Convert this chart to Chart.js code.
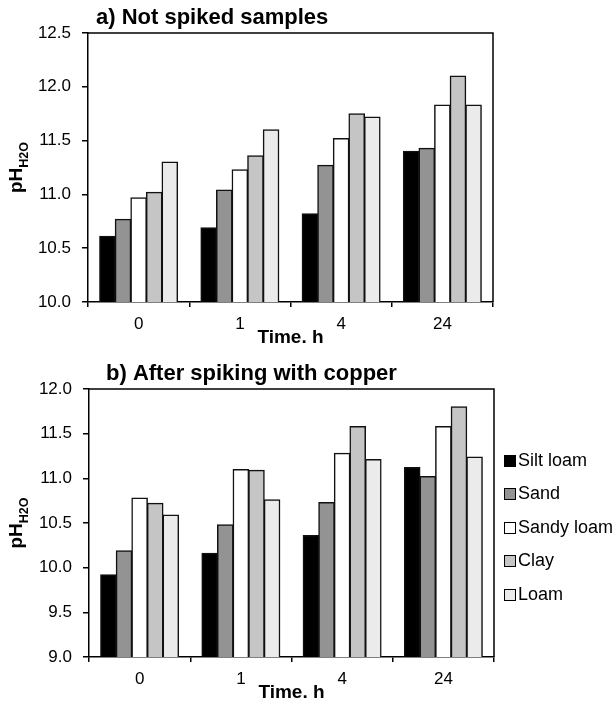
<!DOCTYPE html>
<html>
<head>
<meta charset="utf-8">
<title>pH of soils over time</title>
<script src="https://cdn.jsdelivr.net/npm/chart.js@4"></script>
<style>
  html, body { margin: 0; padding: 0; background: #ffffff; }
  canvas { display: block; }
</style>
</head>
<body>
<canvas id="chartA" width="616" height="350"></canvas>
<canvas id="chartB" width="616" height="351"></canvas>
<script>
// Sampling times (hours) and soil types
const times = ['0', '1', '4', '24'];
const soils = ['Silt loam', 'Sand', 'Sandy loam', 'Clay', 'Loam'];
const soilColors = ['#000000', '#939393', '#ffffff', '#c4c5c4', '#ebebeb'];

// a) pH(H2O) of the soils without copper
const siltLoamA  = [10.61, 10.69, 10.82, 11.40];
const sandA      = [10.77, 11.04, 11.27, 11.43];
const sandyLoamA = [10.97, 11.23, 11.52, 11.83];
const clayA      = [11.02, 11.36, 11.75, 12.10];
const loamA      = [11.30, 11.60, 11.72, 11.83];

// b) pH(H2O) after spiking with copper
const siltLoamB  = [9.92, 10.16, 10.36, 11.12];
const sandB      = [10.19, 10.48, 10.73, 11.02];
const sandyLoamB = [10.78, 11.10, 11.28, 11.58];
const clayB      = [10.72, 11.09, 11.58, 11.80];
const loamB      = [10.59, 10.76, 11.21, 11.24];

// y-axis tick values of each panel
const yTicksA = [10.0, 10.5, 11.0, 11.5, 12.0, 12.5];
const yTicksB = [9.0, 9.5, 10.0, 10.5, 11.0, 11.5, 12.0];

const FONT = '"Liberation Sans", Arial, Helvetica, sans-serif';
const LINE = 1.5;

// closes the plot box on the top and right sides
const framePlugin = {
  id: 'frame',
  afterDatasetsDraw(chart) {
    const { ctx, chartArea: a } = chart;
    ctx.save();
    ctx.strokeStyle = '#000';
    ctx.lineWidth = LINE;
    ctx.beginPath();
    ctx.moveTo(a.left, a.top);
    ctx.lineTo(a.right, a.top);
    ctx.lineTo(a.right, a.bottom);
    ctx.stroke();
    ctx.restore();
  }
};

// bold panel heading above the plot box
const panelTitlePlugin = {
  id: 'panelTitle',
  afterDraw(chart, args, opts) {
    const { ctx, chartArea: a } = chart;
    ctx.save();
    ctx.fillStyle = '#000';
    ctx.font = 'bold 22px ' + FONT;
    ctx.textAlign = 'left';
    ctx.textBaseline = 'alphabetic';
    ctx.fillText(opts.text, a.left + opts.dx, a.top - opts.dy);
    ctx.restore();
  }
};

// rotated y-axis title "pH" with subscript "H2O"
const yTitlePlugin = {
  id: 'yTitleSub',
  afterDraw(chart, args, opts) {
    const { ctx, chartArea: a } = chart;
    const big = 'bold 19px ' + FONT;
    const small = 'bold 12.5px ' + FONT;
    ctx.save();
    ctx.translate(opts.x, (a.top + a.bottom) / 2);
    ctx.rotate(-Math.PI / 2);
    ctx.fillStyle = '#000';
    ctx.textAlign = 'left';
    ctx.textBaseline = 'alphabetic';
    ctx.font = big;
    const w1 = ctx.measureText('pH').width;
    ctx.font = small;
    const w2 = ctx.measureText('H2O').width;
    const start = -(w1 + w2) / 2;
    ctx.font = big;
    ctx.fillText('pH', start, 0);
    ctx.font = small;
    ctx.fillText('H2O', start + w1, opts.subDrop);
    ctx.restore();
  }
};

// soil legend to the right of the plot box
const sideLegendPlugin = {
  id: 'sideLegend',
  afterDraw(chart, args, opts) {
    if (!opts.display) return;
    const { ctx, chartArea: a } = chart;
    const sets = chart.data.datasets;
    const midY = (a.top + a.bottom) / 2 + opts.offsetY;
    const y0 = midY - (sets.length - 1) * opts.rowGap / 2;
    ctx.save();
    ctx.font = '18px ' + FONT;
    ctx.textAlign = 'left';
    ctx.textBaseline = 'middle';
    sets.forEach((ds, i) => {
      const cy = y0 + i * opts.rowGap;
      const bx = opts.x;
      const by = Math.round(cy - opts.box / 2) + 0.5;
      ctx.fillStyle = ds.backgroundColor;
      ctx.fillRect(bx, by, opts.box, opts.box);
      ctx.strokeStyle = '#000';
      ctx.lineWidth = 1;
      ctx.strokeRect(bx, by, opts.box, opts.box);
      ctx.fillStyle = '#000';
      ctx.fillText(ds.label, bx + opts.box + 2.5, cy + 1);
    });
    ctx.restore();
  }
};

function makeDatasets(series) {
  return soils.map((name, i) => ({
    label: name,
    data: series[i],
    backgroundColor: soilColors[i],
    borderColor: '#111111',
    borderWidth: 1.5,
    borderSkipped: 'start',
    inflateAmount: 0.5,
    barPercentage: 1,
    categoryPercentage: 0.77
  }));
}

function buildChart(canvasId, series, yTicks, cfg) {
  return new Chart(document.getElementById(canvasId), {
    type: 'bar',
    data: { labels: times, datasets: makeDatasets(series) },
    options: {
      responsive: false,
      animation: false,
      devicePixelRatio: 1,
      layout: { padding: { top: cfg.padTop, right: cfg.padRight, left: 0, bottom: 0 } },
      plugins: {
        legend: { display: false },
        tooltip: { enabled: false },
        title: { display: false },
        panelTitle: { text: cfg.title, dx: cfg.titleDx, dy: cfg.titleDy },
        yTitleSub: { x: 21.5, subDrop: 6.5 },
        sideLegend: { display: cfg.legend, x: 504.5, box: 11, rowGap: 33.5, offsetY: 4 }
      },
      scales: {
        x: {
          grid: { display: true, drawOnChartArea: false, offset: true, tickLength: 5, color: '#000', lineWidth: LINE },
          border: { display: true, color: '#000', width: LINE },
          ticks: { color: '#000', font: { family: FONT, size: 17 }, padding: 7 },
          title: {
            display: true, text: 'Time. h', color: '#000',
            font: { family: FONT, size: 19, weight: 'bold', lineHeight: 0.8 },
            padding: { top: 0, bottom: cfg.xTitlePad }
          },
          afterFit(scale) { scale.height = cfg.xHeight; }
        },
        y: {
          min: yTicks[0],
          max: yTicks[yTicks.length - 1],
          afterBuildTicks(scale) { scale.ticks = yTicks.map(v => ({ value: v })); },
          grid: { display: true, drawOnChartArea: false, tickLength: 6, color: '#000', lineWidth: LINE },
          border: { display: true, color: '#000', width: LINE },
          ticks: {
            color: '#000', font: { family: FONT, size: 17 }, padding: 11,
            callback: v => Number(v).toFixed(1)
          },
          afterFit(scale) { scale.width = cfg.yWidth; }
        }
      }
    },
    plugins: [framePlugin, panelTitlePlugin, yTitlePlugin, sideLegendPlugin]
  });
}

buildChart('chartA', [siltLoamA, sandA, sandyLoamA, clayA, loamA], yTicksA, {
  title: 'a) Not spiked samples', titleDx: 8, titleDy: 9.5,
  padTop: 33, padRight: 123, yWidth: 88, xHeight: 48, xTitlePad: 4.4, legend: false
});

buildChart('chartB', [siltLoamB, sandB, sandyLoamB, clayB, loamB], yTicksB, {
  title: 'b) After spiking with copper', titleDx: 17, titleDy: 9,
  padTop: 39, padRight: 122, yWidth: 89, xHeight: 44, xTitlePad: 0.4, legend: true
});
</script>
</body>
</html>
